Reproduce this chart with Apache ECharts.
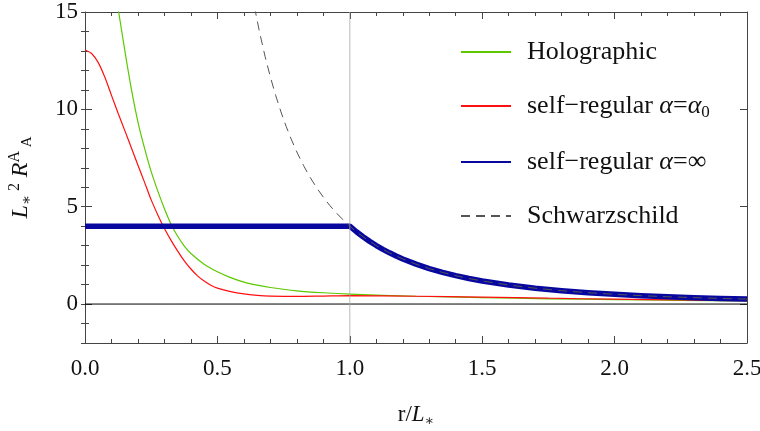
<!DOCTYPE html>
<html>
<head>
<meta charset="utf-8">
<script src="https://cdn.jsdelivr.net/npm/echarts@6/dist/echarts.min.js"></script>
<style>
html,body{margin:0;padding:0;background:#fff;}
#chart{width:760px;height:431px;}
</style>
</head>
<body>
<div id="chart"></div>
<script>
// ---- data ----
var xTickLabels = ['0.0','0.5','1.0','1.5','2.0','2.5'];
var yTickValues = [0, 5, 10, 15];

var holoX = [0.10,0.126,0.15,0.175,0.20,0.225,0.25,0.275,0.30,0.325,0.35,0.375,0.40,0.45,0.50,0.55,0.60,0.65,0.70,0.80,0.90,1.0,1.25,1.5,1.75,2.0,2.25,2.5];
var holoY = [17.3,15.1,13.05,11.05,9.35,8.0,6.8,5.8,4.9,4.1,3.48,2.98,2.6,2.05,1.66,1.36,1.13,0.97,0.85,0.68,0.58,0.51,0.40,0.33,0.27,0.23,0.19,0.16];

var regX = [0.0,0.025,0.05,0.075,0.10,0.125,0.15,0.175,0.20,0.225,0.25,0.275,0.30,0.325,0.35,0.375,0.40,0.425,0.45,0.475,0.50,0.55,0.60,0.65,0.70,0.80,0.90,1.0,1.25,1.5,1.75,2.0,2.25,2.5];
var regY = [13.05,12.87,12.4,11.65,10.72,9.8,8.92,8.03,7.13,6.25,5.35,4.58,3.88,3.27,2.72,2.22,1.8,1.45,1.18,0.97,0.82,0.64,0.52,0.45,0.41,0.39,0.41,0.43,0.40,0.36,0.30,0.25,0.21,0.17];

var infX = [0.0,0.5,1.0,1.025,1.05,1.075,1.1,1.125,1.15,1.175,1.2,1.25,1.3,1.35,1.4,1.45,1.5,1.6,1.7,1.8,1.9,2.0,2.1,2.2,2.3,2.4,2.5];
var infY = [4.0,4.0,4.0,3.714,3.455,3.22,3.005,2.809,2.63,2.466,2.315,2.048,1.821,1.626,1.458,1.312,1.185,0.977,0.814,0.686,0.583,0.50,0.432,0.376,0.329,0.289,0.256];

var schX = [0.62,0.64,0.66,0.68,0.70,0.72,0.74,0.76,0.78,0.80,0.825,0.85,0.875,0.90,0.925,0.95,0.975,1.0,1.025,1.05,1.075,1.1,1.125,1.15,1.175,1.2,1.25,1.3,1.35,1.4,1.45,1.5,1.6,1.7,1.8,1.9,2.0,2.1,2.2,2.3,2.4,2.5];
var schY = [16.78,15.26,13.91,12.72,11.66,10.72,9.87,9.11,8.43,7.81,7.12,6.51,5.97,5.49,5.05,4.67,4.32,4.0,3.714,3.455,3.22,3.005,2.809,2.63,2.466,2.315,2.048,1.821,1.626,1.458,1.312,1.185,0.977,0.814,0.686,0.583,0.50,0.432,0.376,0.329,0.289,0.256];

var seriesNames = ['Holographic','self−regular α=α0','self−regular α=∞','Schwarzschild'];
var legendRich = [
  '{sp|}{t|Holographic}',
  '{sp|}{t|self−regular }{i|α}{t|=}{i|α}{sub|0}',
  '{sp|}{t|self−regular }{i|α}{t|=∞}',
  '{sp|}{t|Schwarzschild}'
];

function pairs(xs, ys){ return xs.map(function(x,i){ return [x, ys[i]]; }); }

var FONT = "'Liberation Serif','DejaVu Serif',serif";
var TXT = '#111';
var chart = echarts.init(document.getElementById('chart'), null, {renderer:'canvas'});

var frameColor = '#444';
var baseX = {
  type:'value', min:0, max:2.5, interval:0.5,
  axisLine:{show:true, onZero:false, lineStyle:{color:frameColor, width:1}},
  axisTick:{show:true, inside:true, length:7, lineStyle:{color:frameColor}},
  minorTick:{show:true, splitNumber:5, length:4, lineStyle:{color:frameColor}},
  splitLine:{show:false}
};

var option = {
  animation:false,
  backgroundColor:'#fff',
  grid:{left:85, right:13, top:12, bottom:88, containLabel:false, outerBoundsMode:'none'},
  legend:{
    data:seriesNames,
    orient:'vertical',
    left:460, top:39, padding:0,
    itemWidth:50, itemHeight:30, itemGap:28,
    itemStyle:{opacity:0},
    formatter:function(name){ return legendRich[seriesNames.indexOf(name)]; },
    textStyle:{
      fontFamily:FONT, fontSize:26, color:TXT,
      rich:{
        sp:{width:11},
        t:{fontFamily:FONT, fontSize:26, color:TXT, lineHeight:30},
        i:{fontFamily:FONT, fontSize:26, fontStyle:'italic', color:TXT, lineHeight:30},
        sub:{fontFamily:FONT, fontSize:17, color:TXT, lineHeight:17, verticalAlign:'bottom'}
      }
    }
  },
  xAxis:[
    Object.assign({}, baseX, {
      position:'bottom',
      axisLabel:{show:true, margin:14, fontFamily:FONT, fontSize:23, color:TXT,
        formatter:function(v){ var s=v.toFixed(1); return xTickLabels.indexOf(s)>=0 ? s : ''; }},
      name:'{t|r/}{i|L}{sub|∗}',
      nameLocation:'middle', nameGap:59,
      nameTextStyle:{fontFamily:FONT, fontSize:23, color:TXT,
        rich:{
          t:{fontFamily:FONT, fontSize:23, color:TXT, lineHeight:26},
          i:{fontFamily:FONT, fontSize:23, fontStyle:'italic', color:TXT, lineHeight:26},
          sub:{fontFamily:FONT, fontSize:14, color:TXT, lineHeight:14, verticalAlign:'bottom'}
        }}
    }),
    Object.assign({}, baseX, {position:'top', axisLabel:{show:false}})
  ],
  yAxis:[
    {
      type:'value', min:-2, max:15, position:'left',
      axisLine:{show:true, onZero:false, lineStyle:{color:frameColor, width:1}},
      axisTick:{show:true, inside:true, length:7, customValues:yTickValues, lineStyle:{color:frameColor}},
      axisLabel:{show:true, margin:7, customValues:yTickValues, fontFamily:FONT, fontSize:23, color:TXT},
      splitLine:{show:false},
      name:'{i|L}{sub|∗}{sup| 2}{t| }{i|R}{sup|A}{sub| A}',
      nameLocation:'middle', nameGap:50, nameRotate:90,
      nameTextStyle:{fontFamily:FONT, fontSize:23, color:TXT,
        rich:{
          t:{fontFamily:FONT, fontSize:23, color:TXT, lineHeight:28},
          i:{fontFamily:FONT, fontSize:24, fontStyle:'italic', color:TXT, lineHeight:28},
          sub:{fontFamily:FONT, fontSize:15, color:TXT, lineHeight:15, verticalAlign:'bottom'},
          sup:{fontFamily:FONT, fontSize:16, color:TXT, lineHeight:16, verticalAlign:'top'}
        }}
    },
    {
      type:'value', min:-2, max:15, interval:1, position:'left',
      axisLine:{show:false},
      axisTick:{show:true, inside:true, length:4, lineStyle:{color:frameColor}},
      axisLabel:{show:false}, splitLine:{show:false}
    },
    {
      type:'value', min:-2, max:15, position:'right',
      axisLine:{show:true, onZero:false, lineStyle:{color:frameColor, width:1}},
      axisTick:{show:true, inside:true, length:7, customValues:yTickValues, lineStyle:{color:frameColor}},
      axisLabel:{show:false}, splitLine:{show:false}
    },
    {
      type:'value', min:-2, max:15, interval:1, position:'right',
      axisLine:{show:false},
      axisTick:{show:true, inside:true, length:4, lineStyle:{color:frameColor}},
      axisLabel:{show:false}, splitLine:{show:false}
    }
  ],
  series:[
    {
      name:'ref-h', type:'line', data:[[0,0],[2.5,0]], symbol:'none', silent:true, z:1,
      lineStyle:{color:'#000', width:1}
    },
    {
      name:seriesNames[0], type:'line', data:pairs(holoX, holoY), symbol:'none', clip:true,
      smooth:0.3, z:2,
      color:'#5cc800', lineStyle:{color:'#5cc800', width:1.2}
    },
    {
      name:seriesNames[1], type:'line', data:pairs(regX, regY), symbol:'none', clip:true,
      smooth:0.3, z:3,
      color:'#ff1010', lineStyle:{color:'#ff1010', width:1.2}
    },
    {
      name:seriesNames[2], type:'line', data:pairs(infX, infY), symbol:'none', clip:true,
      smooth:false, z:4,
      color:'#0808a0', lineStyle:{color:'#0808a0', width:5.5, cap:'butt', join:'round'}
    },
    {
      name:'ref-v', type:'line', data:[[1,-2],[1,15]], symbol:'none', silent:true, z:5,
      lineStyle:{color:'#aaa', width:1, opacity:0.8}
    },
    {
      name:seriesNames[3], type:'line', data:pairs(schX, schY), symbol:'none', clip:true,
      smooth:false, z:6,
      color:'#555', lineStyle:{color:'#555', width:1, type:[9,6]}
    }
  ]
};
chart.setOption(option);
</script>
</body>
</html>
